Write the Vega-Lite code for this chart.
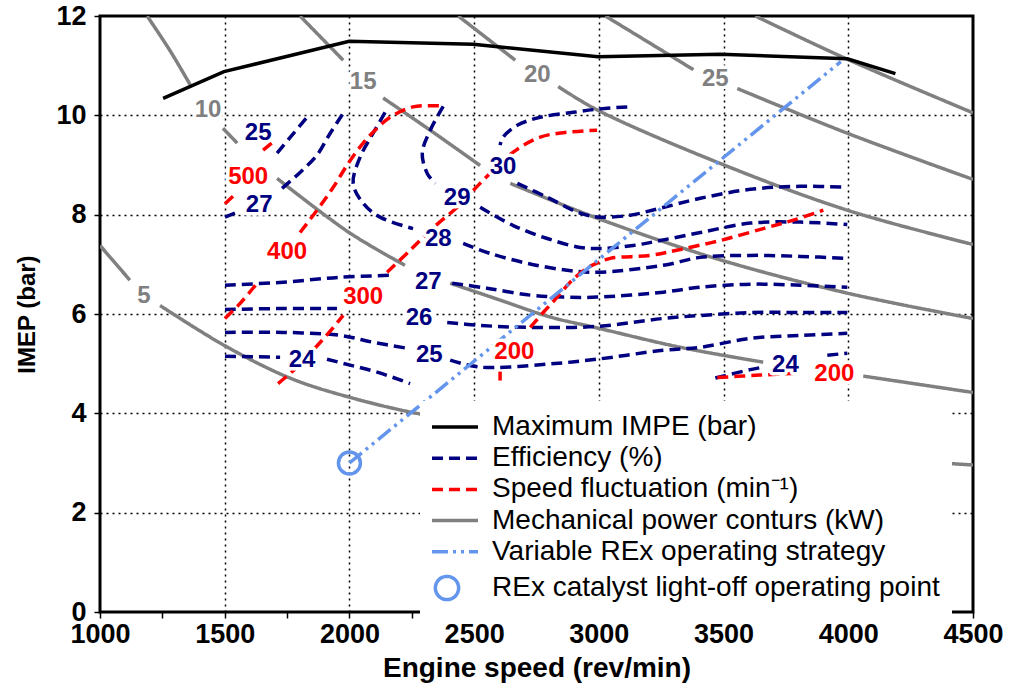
{
  "$schema": "https://vega.github.io/schema/vega-lite/v6.json",
  "width": 873,
  "height": 596,
  "autosize": "none",
  "padding": {"left": 100, "top": 16, "right": 43, "bottom": 79},
  "background": "white",
  "config": {
    "view": {"stroke": "black", "strokeWidth": 3},
    "font": "Liberation Sans"
  },
  "datasets": {
    "lines": [
      {"k":"M","s":"m","x":1253,"y":10.34},{"k":"M","s":"m","x":1497,"y":10.88},{"k":"M","s":"m","x":1999,"y":11.49},{"k":"M","s":"m","x":2496,"y":11.43},{"k":"M","s":"m","x":2997,"y":11.18},{"k":"M","s":"m","x":3487,"y":11.23},{"k":"M","s":"m","x":3996,"y":11.14},{"k":"M","s":"m","x":4189,"y":10.84},

      {"k":"P","s":"p5a","x":1000,"y":7.38},{"k":"P","s":"p5a","x":1120,"y":6.68},
      {"k":"P","s":"p5b","x":1241,"y":6.17},{"k":"P","s":"p5b","x":1501,"y":5.36},{"k":"P","s":"p5b","x":1762,"y":4.71},{"k":"P","s":"p5b","x":2003,"y":4.32},{"k":"P","s":"p5b","x":2292,"y":3.98},{"k":"P","s":"p5b","x":2500,"y":3.85},{"k":"P","s":"p5b","x":3000,"y":3.55},{"k":"P","s":"p5b","x":3500,"y":3.3},{"k":"P","s":"p5b","x":4000,"y":3.12},{"k":"P","s":"p5b","x":4500,"y":2.96},
      {"k":"P","s":"p10a","x":1189,"y":12.0},{"k":"P","s":"p10a","x":1281,"y":11.3},{"k":"P","s":"p10a","x":1361,"y":10.62},
      {"k":"P","s":"p10b","x":1493,"y":9.74},{"k":"P","s":"p10b","x":1550,"y":9.44},
      {"k":"P","s":"p10c","x":1710,"y":8.73},{"k":"P","s":"p10c","x":1999,"y":7.64},{"k":"P","s":"p10c","x":2223,"y":6.98},
      {"k":"P","s":"p10d","x":2404,"y":6.62},{"k":"P","s":"p10d","x":2604,"y":6.28},{"k":"P","s":"p10d","x":2805,"y":5.94},{"k":"P","s":"p10d","x":2993,"y":5.72},{"k":"P","s":"p10d","x":3326,"y":5.33},{"k":"P","s":"p10d","x":3659,"y":5.03},
      {"k":"P","s":"p10e","x":4060,"y":4.75},{"k":"P","s":"p10e","x":4500,"y":4.42},
      {"k":"P","s":"p15a","x":1802,"y":12.0},{"k":"P","s":"p15a","x":1975,"y":11.11},
      {"k":"P","s":"p15b","x":2135,"y":10.35},{"k":"P","s":"p15b","x":2324,"y":9.7},{"k":"P","s":"p15b","x":2524,"y":8.99},
      {"k":"P","s":"p15c","x":2645,"y":8.63},{"k":"P","s":"p15c","x":2993,"y":7.93},{"k":"P","s":"p15c","x":3487,"y":7.09},{"k":"P","s":"p15c","x":3996,"y":6.42},{"k":"P","s":"p15c","x":4500,"y":5.91},
      {"k":"P","s":"p20a","x":2436,"y":12.0},{"k":"P","s":"p20a","x":2665,"y":11.11},
      {"k":"P","s":"p20b","x":2837,"y":10.58},{"k":"P","s":"p20b","x":2993,"y":10.11},{"k":"P","s":"p20b","x":3487,"y":9.03},{"k":"P","s":"p20b","x":3996,"y":8.09},{"k":"P","s":"p20b","x":4500,"y":7.4},
      {"k":"P","s":"p25a","x":3026,"y":12.0},{"k":"P","s":"p25a","x":3379,"y":10.92},
      {"k":"P","s":"p25b","x":3555,"y":10.54},{"k":"P","s":"p25b","x":3996,"y":9.64},{"k":"P","s":"p25b","x":4500,"y":8.71},
      {"k":"P","s":"p30","x":3627,"y":12.0},{"k":"P","s":"p30","x":3996,"y":11.13},{"k":"P","s":"p30","x":4500,"y":10.05},

      {"k":"E","s":"e25a","x":1710,"y":9.24},{"k":"E","s":"e25a","x":1770,"y":9.6},{"k":"E","s":"e25a","x":1830,"y":9.96},
      {"k":"E","s":"e27a1","x":1501,"y":7.95},{"k":"E","s":"e27a1","x":1541,"y":8.03},
      {"k":"E","s":"e27a2","x":1730,"y":8.53},{"k":"E","s":"e27a2","x":1802,"y":8.85},{"k":"E","s":"e27a2","x":1870,"y":9.2},{"k":"E","s":"e27a2","x":1923,"y":9.64},{"k":"E","s":"e27a2","x":1975,"y":10.04},
      {"k":"E","s":"e28a","x":2143,"y":10.06},{"k":"E","s":"e28a","x":2095,"y":9.64},{"k":"E","s":"e28a","x":2043,"y":9.16},{"k":"E","s":"e28a","x":2015,"y":8.63},{"k":"E","s":"e28a","x":2055,"y":8.23},{"k":"E","s":"e28a","x":2123,"y":7.95},{"k":"E","s":"e28a","x":2255,"y":7.72},
      {"k":"E","s":"e28b","x":2456,"y":7.42},{"k":"E","s":"e28b","x":2564,"y":7.22},{"k":"E","s":"e28b","x":2713,"y":7.02},{"k":"E","s":"e28b","x":2873,"y":6.88},{"k":"E","s":"e28b","x":2993,"y":6.84},{"k":"E","s":"e28b","x":3258,"y":6.98},{"k":"E","s":"e28b","x":3407,"y":7.14},{"k":"E","s":"e28b","x":3607,"y":7.18},{"k":"E","s":"e28b","x":3808,"y":7.16},{"k":"E","s":"e28b","x":3996,"y":7.12},
      {"k":"E","s":"e29a","x":2376,"y":10.18},{"k":"E","s":"e29a","x":2324,"y":9.7},{"k":"E","s":"e29a","x":2292,"y":9.24},{"k":"E","s":"e29a","x":2312,"y":8.83},{"k":"E","s":"e29a","x":2344,"y":8.63},
      {"k":"E","s":"e29b","x":2524,"y":8.15},{"k":"E","s":"e29b","x":2657,"y":7.78},{"k":"E","s":"e29b","x":2793,"y":7.52},{"k":"E","s":"e29b","x":2925,"y":7.34},{"k":"E","s":"e29b","x":3017,"y":7.32},{"k":"E","s":"e29b","x":3138,"y":7.38},{"k":"E","s":"e29b","x":3246,"y":7.48},{"k":"E","s":"e29b","x":3407,"y":7.64},{"k":"E","s":"e29b","x":3607,"y":7.83},{"k":"E","s":"e29b","x":3808,"y":7.85},{"k":"E","s":"e29b","x":3996,"y":7.8},
      {"k":"E","s":"e30a","x":3114,"y":10.17},{"k":"E","s":"e30a","x":3005,"y":10.13},{"k":"E","s":"e30a","x":2897,"y":10.06},{"k":"E","s":"e30a","x":2765,"y":9.96},{"k":"E","s":"e30a","x":2673,"y":9.8},{"k":"E","s":"e30a","x":2616,"y":9.56},{"k":"E","s":"e30a","x":2604,"y":9.4},
      {"k":"E","s":"e30b","x":2673,"y":8.63},{"k":"E","s":"e30b","x":2793,"y":8.35},{"k":"E","s":"e30b","x":2925,"y":8.03},{"k":"E","s":"e30b","x":3005,"y":7.95},{"k":"E","s":"e30b","x":3126,"y":7.99},{"k":"E","s":"e30b","x":3246,"y":8.13},{"k":"E","s":"e30b","x":3407,"y":8.33},{"k":"E","s":"e30b","x":3607,"y":8.51},{"k":"E","s":"e30b","x":3808,"y":8.57},{"k":"E","s":"e30b","x":3996,"y":8.55},
      {"k":"E","s":"e27b1","x":1501,"y":6.58},{"k":"E","s":"e27b1","x":1734,"y":6.64},{"k":"E","s":"e27b1","x":1963,"y":6.74},{"k":"E","s":"e27b1","x":2175,"y":6.78},
      {"k":"E","s":"e27b2","x":2412,"y":6.62},{"k":"E","s":"e27b2","x":2552,"y":6.52},{"k":"E","s":"e27b2","x":2725,"y":6.38},{"k":"E","s":"e27b2","x":2857,"y":6.34},{"k":"E","s":"e27b2","x":2993,"y":6.34},{"k":"E","s":"e27b2","x":3258,"y":6.44},{"k":"E","s":"e27b2","x":3407,"y":6.54},{"k":"E","s":"e27b2","x":3607,"y":6.6},{"k":"E","s":"e27b2","x":3808,"y":6.58},{"k":"E","s":"e27b2","x":3996,"y":6.54},
      {"k":"E","s":"e26a","x":1501,"y":6.09},{"k":"E","s":"e26a","x":1734,"y":6.11},{"k":"E","s":"e26a","x":1950,"y":6.11},
      {"k":"E","s":"e26b","x":2392,"y":5.83},{"k":"E","s":"e26b","x":2524,"y":5.77},{"k":"E","s":"e26b","x":2725,"y":5.73},{"k":"E","s":"e26b","x":2993,"y":5.75},{"k":"E","s":"e26b","x":3258,"y":5.91},{"k":"E","s":"e26b","x":3407,"y":5.97},{"k":"E","s":"e26b","x":3607,"y":6.03},{"k":"E","s":"e26b","x":3808,"y":6.03},{"k":"E","s":"e26b","x":3996,"y":6.03},
      {"k":"E","s":"e25b1","x":1501,"y":5.63},{"k":"E","s":"e25b1","x":1734,"y":5.63},{"k":"E","s":"e25b1","x":1963,"y":5.57},{"k":"E","s":"e25b1","x":2095,"y":5.43},{"k":"E","s":"e25b1","x":2231,"y":5.31},
      {"k":"E","s":"e25b2","x":2404,"y":5.07},{"k":"E","s":"e25b2","x":2524,"y":4.93},{"k":"E","s":"e25b2","x":2793,"y":4.99},{"k":"E","s":"e25b2","x":2993,"y":5.09},{"k":"E","s":"e25b2","x":3258,"y":5.27},{"k":"E","s":"e25b2","x":3407,"y":5.33},{"k":"E","s":"e25b2","x":3607,"y":5.51},{"k":"E","s":"e25b2","x":3808,"y":5.57},{"k":"E","s":"e25b2","x":3996,"y":5.61},
      {"k":"E","s":"e24a1","x":1501,"y":5.15},{"k":"E","s":"e24a1","x":1722,"y":5.13},
      {"k":"E","s":"e24a2","x":1910,"y":5.09},{"k":"E","s":"e24a2","x":2003,"y":4.97},{"k":"E","s":"e24a2","x":2111,"y":4.83},{"k":"E","s":"e24a2","x":2243,"y":4.6},
      {"k":"E","s":"e24b1","x":3467,"y":4.71},{"k":"E","s":"e24b1","x":3607,"y":4.88},{"k":"E","s":"e24b1","x":3659,"y":4.93},
      {"k":"E","s":"e24b2","x":3916,"y":5.17},{"k":"E","s":"e24b2","x":3996,"y":5.21},

      {"k":"S","s":"s500a","x":1501,"y":8.22},{"k":"S","s":"s500a","x":1550,"y":8.45},
      {"k":"S","s":"s500b","x":1654,"y":9.3},{"k":"S","s":"s500b","x":1698,"y":9.48},
      {"k":"S","s":"s400a","x":1501,"y":5.91},{"k":"S","s":"s400a","x":1561,"y":6.21},{"k":"S","s":"s400a","x":1630,"y":6.62},
      {"k":"S","s":"s400b","x":1802,"y":7.64},{"k":"S","s":"s400b","x":1870,"y":8.09},{"k":"S","s":"s400b","x":1935,"y":8.55},{"k":"S","s":"s400b","x":1995,"y":9.03},{"k":"S","s":"s400b","x":2055,"y":9.44},{"k":"S","s":"s400b","x":2103,"y":9.7},{"k":"S","s":"s400b","x":2163,"y":9.96},{"k":"S","s":"s400b","x":2255,"y":10.17},{"k":"S","s":"s400b","x":2364,"y":10.19},
      {"k":"S","s":"s300a","x":1714,"y":4.6},{"k":"S","s":"s300a","x":1790,"y":4.93},{"k":"S","s":"s300a","x":1854,"y":5.27},{"k":"S","s":"s300a","x":1915,"y":5.61},{"k":"S","s":"s300a","x":1975,"y":5.97},
      {"k":"S","s":"s300b","x":2151,"y":6.84},{"k":"S","s":"s300b","x":2243,"y":7.28},{"k":"S","s":"s300b","x":2336,"y":7.74},{"k":"S","s":"s300b","x":2432,"y":8.15},{"k":"S","s":"s300b","x":2524,"y":8.63},{"k":"S","s":"s300b","x":2657,"y":9.26},{"k":"S","s":"s300b","x":2765,"y":9.56},{"k":"S","s":"s300b","x":2873,"y":9.66},{"k":"S","s":"s300b","x":2993,"y":9.7},
      {"k":"S","s":"s200a","x":2604,"y":4.84},{"k":"S","s":"s200a","x":2604,"y":4.66},
      {"k":"S","s":"s200b","x":2725,"y":5.73},{"k":"S","s":"s200b","x":2777,"y":6.03},{"k":"S","s":"s200b","x":2833,"y":6.34},{"k":"S","s":"s200b","x":2885,"y":6.64},{"k":"S","s":"s200b","x":2945,"y":6.9},{"k":"S","s":"s200b","x":2990,"y":7.02},{"k":"S","s":"s200b","x":3046,"y":7.12},{"k":"S","s":"s200b","x":3206,"y":7.18},{"k":"S","s":"s200b","x":3326,"y":7.3},{"k":"S","s":"s200b","x":3487,"y":7.48},{"k":"S","s":"s200b","x":3659,"y":7.72},{"k":"S","s":"s200b","x":3780,"y":7.89},{"k":"S","s":"s200b","x":3900,"y":8.09},
      {"k":"S","s":"s200c","x":3475,"y":4.72},{"k":"S","s":"s200c","x":3647,"y":4.77},{"k":"S","s":"s200c","x":3808,"y":4.81},

      {"k":"V","s":"v","x":2000,"y":3.0},{"k":"V","s":"v","x":3970,"y":11.08}
    ],
    "points": [
      {"k":"C","x":2000,"y":3.0}
    ],
    "labels": [
      {"k":"E","t":"25","x":1634,"y":9.64},{"k":"E","t":"27","x":1638,"y":8.19},{"k":"E","t":"28","x":2356,"y":7.52},{"k":"E","t":"29","x":2432,"y":8.33},{"k":"E","t":"30","x":2616,"y":8.95},{"k":"E","t":"27","x":2316,"y":6.64},{"k":"E","t":"26","x":2279,"y":5.91},{"k":"E","t":"25","x":2320,"y":5.17},{"k":"E","t":"24","x":1810,"y":5.07},{"k":"E","t":"24","x":3748,"y":4.97},
      {"k":"S","t":"500","x":1594,"y":8.75},{"k":"S","t":"400","x":1750,"y":7.24},{"k":"S","t":"300","x":2055,"y":6.34},{"k":"S","t":"200","x":2661,"y":5.23},{"k":"S","t":"200","x":3944,"y":4.79},
      {"k":"P","t":"5","x":1176,"y":6.37},{"k":"P","t":"10","x":1433,"y":10.1},{"k":"P","t":"15","x":2055,"y":10.67},{"k":"P","t":"20","x":2753,"y":10.81},{"k":"P","t":"25","x":3467,"y":10.73}
    ]
  },
  "layer": [
    {
      "data": {"name": "lines"},
      "transform": [{"filter": "datum.k != 'M'"}],
      "mark": {"type": "line", "interpolate": "catmull-rom", "strokeWidth": 3.5, "strokeCap": "butt", "clip": true},
      "encoding": {
        "x": {"field": "x", "type": "quantitative", "scale": {"domain": [1000, 4500], "nice": false, "zero": false},
          "axis": {"title": "Engine speed (rev/min)", "values": [1000,1250,1500,1750,2000,2250,2500,2750,3000,3250,3500,3750,4000,4250,4500], "format": "d",
            "labelExpr": "datum.value % 500 == 0 ? datum.label : ''",
            "grid": true, "gridDash": [2, 4], "gridColor": "black", "gridWidth": 1.5,
            "gridOpacity": {"condition": {"test": "datum.value % 500 != 0 || datum.value == 1000 || datum.value == 4500", "value": 0}, "value": 1},
            "domain": false, "tickColor": "black", "tickSize": 6, "tickWidth": 1.5,
            "labelFont": "Liberation Sans", "labelFontSize": 27, "labelFontWeight": "bold", "labelColor": "black", "labelPadding": 3, "labelFlush": false, "labelOverlap": false,
            "titleFont": "Liberation Sans", "titleFontSize": 28, "titleFontWeight": "bold", "titleColor": "black", "titlePadding": 7}},
        "y": {"field": "y", "type": "quantitative", "scale": {"domain": [0, 12], "nice": false, "zero": false},
          "axis": {"title": "IMEP (bar)", "values": [0,2,4,6,8,10,12], "format": "d",
            "grid": true, "gridDash": [2, 4], "gridColor": "black", "gridWidth": 1.5,
            "gridOpacity": {"condition": {"test": "datum.value == 0 || datum.value == 12", "value": 0}, "value": 1},
            "domain": false, "tickColor": "black", "tickSize": 6, "tickWidth": 1.5,
            "labelFont": "Liberation Sans", "labelFontSize": 27, "labelFontWeight": "bold", "labelColor": "black", "labelPadding": 8, "labelFlush": false, "labelOverlap": false,
            "titleFont": "Liberation Sans", "titleFontSize": 24, "titleFontWeight": "bold", "titleColor": "black", "titlePadding": 16}},
        "color": {"field": "k", "type": "nominal",
          "scale": {"domain": ["M","E","S","P","V","C"], "range": ["#000000","#000080","#FF0000","#808080","#6495ED","#6495ED"]},
          "legend": {"title": null, "orient": "none", "legendX": 320, "legendY": 385, "fillColor": "white", "padding": 12, "zindex": 1,
            "symbolType": "stroke", "symbolSize": 400, "symbolStrokeWidth": 3.5, "labelOffset": 32, "labelLimit": 600,
            "labelFont": "Liberation Sans", "labelFontSize": 28, "labelColor": "black", "rowPadding": 3.2,
            "labelExpr": "datum.label == 'M' ? 'Maximum IMPE (bar)' : datum.label == 'E' ? 'Efficiency (%)' : datum.label == 'S' ? 'Speed fluctuation (min⁻¹)' : datum.label == 'P' ? 'Mechanical power conturs (kW)' : datum.label == 'V' ? 'Variable REx operating strategy' : '\u00a0REx catalyst light-off operating point'",
            "encode": {"symbols": {"update": {"shape": {"signal": "datum.value === 'C' ? 'circle' : 'M-2.3,0H2.3'"}, "size": {"signal": "datum.value === 'C' ? 540 : 400"}, "x": {"signal": "datum.value === 'C' ? 15 : 23"}}}}}},
        "strokeDash": {"field": "k", "type": "nominal",
          "scale": {"domain": ["M","E","S","P","V","C"], "range": [[1,0],[11,6],[11,6],[1,0],[16,5,3,5,3,5],[1,0]]},
          "legend": {"title": null, "orient": "none", "legendX": 320, "legendY": 385, "fillColor": "white", "padding": 12, "zindex": 1,
            "symbolType": "stroke", "symbolSize": 400, "symbolStrokeWidth": 3.5, "labelOffset": 32, "labelLimit": 600,
            "labelFont": "Liberation Sans", "labelFontSize": 28, "labelColor": "black", "rowPadding": 3.2,
            "labelExpr": "datum.label == 'M' ? 'Maximum IMPE (bar)' : datum.label == 'E' ? 'Efficiency (%)' : datum.label == 'S' ? 'Speed fluctuation (min⁻¹)' : datum.label == 'P' ? 'Mechanical power conturs (kW)' : datum.label == 'V' ? 'Variable REx operating strategy' : '\u00a0REx catalyst light-off operating point'",
            "encode": {"symbols": {"update": {"shape": {"signal": "datum.value === 'C' ? 'circle' : 'M-2.3,0H2.3'"}, "size": {"signal": "datum.value === 'C' ? 540 : 400"}, "x": {"signal": "datum.value === 'C' ? 15 : 23"}}}}}},
        "detail": {"field": "s"},
        "order": {"value": null}
      }
    },
    {
      "data": {"name": "lines"},
      "transform": [{"filter": "datum.k == 'M'"}],
      "mark": {"type": "line", "interpolate": "linear", "strokeWidth": 3.5, "clip": true},
      "encoding": {
        "x": {"field": "x", "type": "quantitative"},
        "y": {"field": "y", "type": "quantitative"},
        "color": {"field": "k", "type": "nominal"},
        "detail": {"field": "s"},
        "order": {"value": null}
      }
    },
    {
      "data": {"name": "points"},
      "mark": {"type": "point", "shape": "circle", "filled": false, "size": 484, "strokeWidth": 3.5, "opacity": 1},
      "encoding": {
        "x": {"field": "x", "type": "quantitative"},
        "y": {"field": "y", "type": "quantitative"},
        "color": {"field": "k", "type": "nominal"}
      }
    },
    {
      "data": {"name": "labels"},
      "mark": {"type": "text", "font": "Liberation Sans", "fontSize": 24, "fontWeight": "bold", "align": "center", "baseline": "middle", "fill": "white", "stroke": "white", "strokeWidth": 7, "strokeJoin": "round"},
      "encoding": {
        "x": {"field": "x", "type": "quantitative"},
        "y": {"field": "y", "type": "quantitative"},
        "text": {"field": "t"}
      }
    },
    {
      "data": {"name": "labels"},
      "mark": {"type": "text", "font": "Liberation Sans", "fontSize": 24, "fontWeight": "bold", "align": "center", "baseline": "middle"},
      "encoding": {
        "x": {"field": "x", "type": "quantitative"},
        "y": {"field": "y", "type": "quantitative"},
        "text": {"field": "t"},
        "fill": {"field": "k", "type": "nominal", "scale": {"domain": ["E","S","P"], "range": ["#000080","#FF0000","#808080"]}, "legend": null}
      }
    }
  ]
}
